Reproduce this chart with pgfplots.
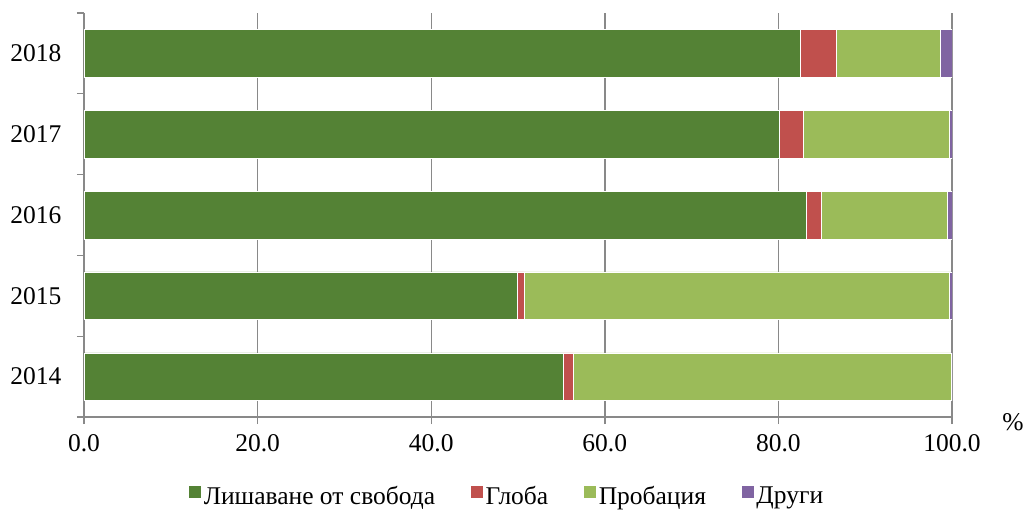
\documentclass[border=0pt]{standalone}
\usepackage{fontspec}
\setmainfont{Liberation Serif}
\usepackage{pgfplots}
\pgfplotsset{compat=1.18}
\definecolor{cDark}{HTML}{548235}
\definecolor{cRed}{HTML}{C0504D}
\definecolor{cLight}{HTML}{9BBB59}
\definecolor{cPurple}{HTML}{8064A2}
\definecolor{cGrid}{HTML}{898989}
\begin{document}
\fontsize{25.5}{30}\selectfont
\begin{tikzpicture}
\useasboundingbox (-84pt,-92pt) rectangle (940pt,417pt);
\begin{axis}[
  scale only axis,
  width=868pt, height=404pt,
  xbar stacked,
  bar width=0.59,
  xmin=0, xmax=100,
  ymin=-0.5, ymax=4.5,
  clip mode=individual,
  axis x line*=bottom, axis y line*=left,
  axis line style={cGrid, line width=1.4pt, -},
  xtick={0,20,...,100},
  xmajorgrids,
  grid style={cGrid, line width=1.4pt},
  major x tick style={cGrid, line width=1.4pt},
  tick align=outside,
  major tick length=7pt,
  ytick={0,...,4},
  yticklabels={2014,2015,2016,2017,2018},
  major y tick style={draw=none},
  minor ytick={-0.5,0.5,1.5,2.5,3.5,4.5},
  minor tick length=7pt,
  minor y tick style={cGrid, line width=1.4pt},
  yticklabel style={xshift=-7pt},
  xticklabel style={yshift=-2pt},
  /pgf/number format/assume math mode=true,
  xticklabel={\pgfmathprintnumber[fixed,fixed zerofill,precision=1]{\tick}},
  legend columns=4,
  legend style={at={(0.487,-0.198)}, anchor=center, draw=none, fill=none,
    /tikz/every even column/.append style={column sep=33pt},
    nodes={inner sep=2pt}},
  legend image code/.code={\fill[#1] (0pt,-1pt) rectangle (13pt,12pt);},
  every axis plot/.append style={draw=white, line width=0.5pt},
]
\addplot[fill=cDark] coordinates {(55.2,0) (49.9,1) (83.2,2) (80.1,3) (82.5,4)};
\addplot[fill=cRed] coordinates {(1.2,0) (0.8,1) (1.7,2) (2.8,3) (4.2,4)};
\addplot[fill=cLight] coordinates {(43.5,0) (49.0,1) (14.6,2) (16.8,3) (11.9,4)};
\addplot[fill=cPurple] coordinates {(0.1,0) (0.3,1) (0.5,2) (0.3,3) (1.4,4)};
\legend{Лишаване от свобода, Глоба, Пробация, Други}
\node at (rel axis cs:1,0) [xshift=61pt, yshift=-5pt] {\%};
\end{axis}
\end{tikzpicture}
\end{document}
